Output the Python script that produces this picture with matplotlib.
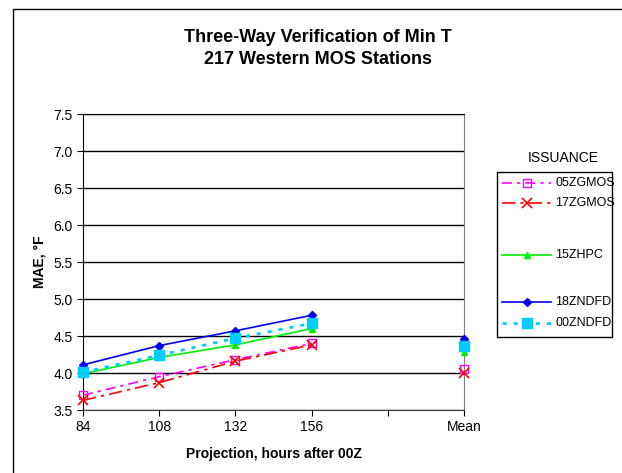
import matplotlib.pyplot as plt
from matplotlib.lines import Line2D
from matplotlib.patches import Rectangle
import numpy as np

plt.rcParams['font.family'] = ['Liberation Sans', 'DejaVu Sans']

categories = ["84", "108", "132", "156", "", "Mean"]
nan = np.nan
gmos05 = [3.70, 3.95, 4.18, 4.40, nan, 4.06]
gmos17 = [3.63, 3.87, 4.16, 4.38, nan, 4.00]
hpc15 = [3.99, 4.21, 4.38, 4.60, nan, 4.28]
ndfd18 = [4.11, 4.37, 4.57, 4.78, nan, 4.46]
ndfd00 = [4.01, 4.24, 4.47, 4.67, nan, 4.36]

series = [
    ("05ZGMOS", gmos05, dict(color="#ff00ff", ls=(0, (6, 3, 2, 3)), marker="s", ms=6,
                             mfc="none", mec="#ff00ff", mew=1.0)),
    ("17ZGMOS", gmos17, dict(color="#ff0000", ls=(0, (8, 3, 2, 3)), marker="x", ms=7, mew=1.2)),
    ("15ZHPC", hpc15, dict(color="#00ee00", ls="-", marker="^", ms=5)),
    ("18ZNDFD", ndfd18, dict(color="#0000ee", ls="-", marker="D", ms=4)),
    ("00ZNDFD", ndfd00, dict(color="#00ccff", ls=(0, (1.5, 2.5)), lw=2.0, marker="s", ms=7)),
]

fig = plt.figure(figsize=(6.22, 4.73), dpi=100)
ax = fig.add_axes([83 / 622, 1 - 410 / 473, (464 - 83) / 622, (410 - 114) / 473])

x = np.arange(len(categories))
for name, vals, st in series:
    st = dict(st)
    st.setdefault("lw", 1.2)
    ax.plot(x, vals, clip_on=False, zorder=3, **st)

ax.set_xlim(0, len(categories) - 1)
ax.set_ylim(3.5, 7.5)
ax.set_yticks(np.arange(3.5, 7.51, 0.5))
ax.set_yticklabels([f"{v:.1f}" for v in np.arange(3.5, 7.51, 0.5)])
ax.set_xticks(x)
ax.set_xticklabels(categories)
ax.yaxis.grid(True, color="black", lw=1.0)
ax.set_axisbelow(True)
ax.tick_params(axis="both", direction="out", length=4, labelsize=10, color="black")
ax.spines["top"].set_color("black")
ax.spines["right"].set_color("#808080")
ax.spines["left"].set_color("black")
ax.spines["bottom"].set_color("#404040")
ax.set_ylabel("MAE, °F", fontsize=10, fontweight="bold", labelpad=5)
ax.set_xlabel("Projection, hours after 00Z", fontsize=10, fontweight="bold", labelpad=9)

fig.text(318 / 622, 1 - 48.5 / 473, "Three-Way Verification of Min T\n217 Western MOS Stations",
         ha="center", va="center", fontsize=13, fontweight="bold", linespacing=1.35)

# chart border
fig.patches.append(Rectangle((13 / 622, -0.1), 1.2, 1 - 9 / 473 + 0.1, transform=fig.transFigure,
                             fill=False, ec="black", lw=1.0))

# legend
fig.text(563 / 622, 1 - 158 / 473, "ISSUANCE", ha="center", va="center", fontsize=10)
fig.patches.append(Rectangle((497 / 622, 1 - 337 / 473), (612 - 497) / 622, (337 - 172) / 473,
                             transform=fig.transFigure, fill=False, ec="black", lw=1.0))
leg_y = [183, 203, 255, 302, 323]
for (name, vals, st), yy in zip(series, leg_y):
    st = dict(st)
    st.setdefault("lw", 1.2)
    yf = 1 - yy / 473
    fig.add_artist(Line2D([502 / 622, 551 / 622], [yf, yf], transform=fig.transFigure,
                          **{k: v for k, v in st.items() if k != "marker"}))
    fig.add_artist(Line2D([527 / 622], [yf], transform=fig.transFigure, ls="none",
                          **{k: v for k, v in st.items() if k not in ("ls", "lw")}))
    fig.text(555 / 622, yf, name, ha="left", va="center", fontsize=9)

fig.savefig("out.png", dpi=100)
